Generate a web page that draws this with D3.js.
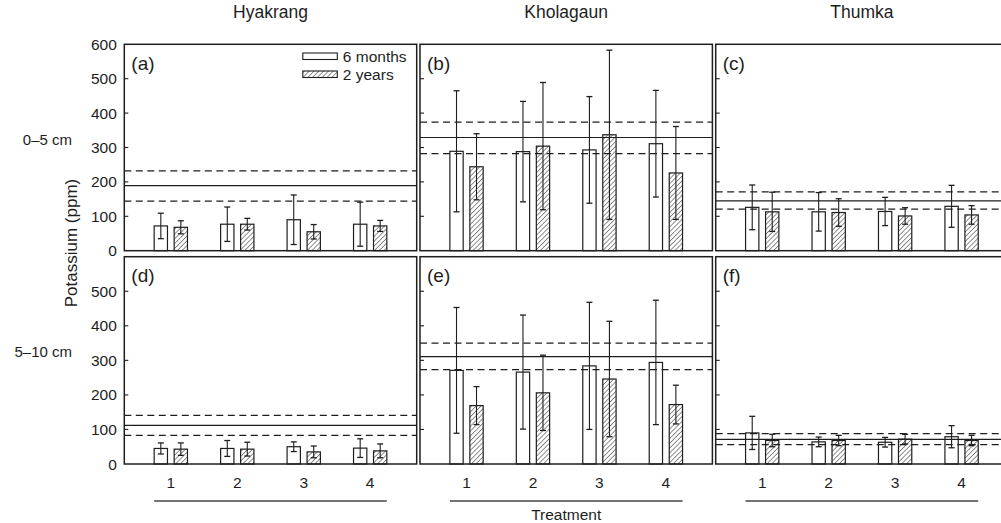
<!DOCTYPE html>
<html>
<head>
<meta charset="utf-8">
<script src="https://cdn.jsdelivr.net/npm/d3@7/dist/d3.min.js"></script>
<style>
  html, body { margin: 0; padding: 0; background: #fff; }
  svg { display: block; font-family: "Liberation Sans", Arial, Helvetica, sans-serif; }
</style>
</head>
<body>
<svg id="chart" width="1001" height="523"></svg>
<script>
// Soil potassium by site, depth and treatment
const sites = ["Hyakrang", "Kholagaun", "Thumka"];
const depths = ["0–5 cm", "5–10 cm"];
const panelLabels = ["(a)", "(b)", "(c)", "(d)", "(e)", "(f)"];
const treatments = [1, 2, 3, 4];
const seriesNames = ["6 months", "2 years"];

// panels in reading order: a, b, c (0–5 cm), d, e, f (5–10 cm)
const sixMonthMean = [
  [72, 77, 90, 77],
  [289, 288, 293, 311],
  [126, 113, 114, 129],
  [45, 45, 50, 46],
  [271, 266, 284, 294],
  [90, 64, 63, 79]
];
const sixMonthErr = [
  [37, 50, 72, 64],
  [176, 146, 155, 155],
  [65, 56, 41, 61],
  [16, 23, 14, 27],
  [182, 165, 184, 180],
  [48, 14, 14, 32]
];
const twoYearMean = [
  [68, 77, 55, 72],
  [244, 304, 337, 226],
  [113, 111, 101, 104],
  [43, 43, 35, 38],
  [169, 206, 246, 172],
  [68, 68, 72, 68]
];
const twoYearErr = [
  [19, 17, 21, 16],
  [96, 185, 246, 135],
  [57, 40, 24, 27],
  [18, 20, 17, 20],
  [55, 109, 167, 56],
  [18, 15, 14, 15]
];
// reference level (solid) with its lower / upper bounds (dashed)
const refMean = [189, 329, 145, 112, 311, 71];
const refLow = [144, 282, 121, 83, 273, 56];
const refHigh = [232, 374, 171, 141, 350, 88];

const yTicksTop = [0, 100, 200, 300, 400, 500, 600];
const yTicksBottom = [0, 100, 200, 300, 400, 500];

// ---- layout ----
const svg = d3.select("#chart");
const ink = "#1e1e1e";
const panelW = 292.4;
const colLeft = [124.3, 420.0, 715.7];
const rowTop = [44.3, 256.7];
const rowBottom = [250.7, 464.0];
const barW = 13.3;
const pairGap = 6.7;

const x = d3.scaleLinear().domain([0.3, 4.7]).range([0, panelW]);

// hatch pattern for the 2-year bars
const defs = svg.append("defs");
const pat = defs.append("pattern")
  .attr("id", "hatch")
  .attr("patternUnits", "userSpaceOnUse")
  .attr("width", 3.4).attr("height", 3.4)
  .attr("patternTransform", "rotate(45)");
pat.append("rect").attr("width", 3.4).attr("height", 3.4).attr("fill", "#fff");
pat.append("line").attr("x1", 0).attr("y1", 0).attr("x2", 0).attr("y2", 3.4)
  .attr("stroke", "#333").attr("stroke-width", 1.1);

// column titles
sites.forEach((s, c) => {
  svg.append("text")
    .attr("x", colLeft[c] + panelW / 2).attr("y", 18)
    .attr("text-anchor", "middle").attr("font-size", 17.5).attr("fill", ink)
    .text(s);
});

// row labels
depths.forEach((d, r) => {
  svg.append("text")
    .attr("x", 72).attr("y", r === 0 ? 145 : 357)
    .attr("text-anchor", "end").attr("font-size", 15).attr("fill", ink)
    .text(d);
});

// y axis title
svg.append("text")
  .attr("transform", "translate(77,243) rotate(-90)")
  .attr("text-anchor", "middle").attr("font-size", 17).attr("fill", ink)
  .text("Potassium (ppm)");

for (let r = 0; r < 2; r++) {
  for (let c = 0; c < 3; c++) {
    const p = r * 3 + c;
    const left = colLeft[c];
    const y = d3.scaleLinear().domain([0, 600]).range([rowBottom[r], rowTop[r]]);
    const g = svg.append("g").attr("transform", `translate(${left},0)`);

    // bars
    const open = treatments.map((t, i) => ({ t, m: sixMonthMean[p][i], e: sixMonthErr[p][i], side: -1 }));
    const hat = treatments.map((t, i) => ({ t, m: twoYearMean[p][i], e: twoYearErr[p][i], side: 1 }));
    const all = open.concat(hat);
    const bx = d => d.side < 0 ? x(d.t) - pairGap / 2 - barW : x(d.t) + pairGap / 2;

    g.selectAll("rect.bar").data(all).join("rect")
      .attr("class", "bar")
      .attr("x", bx)
      .attr("y", d => y(d.m))
      .attr("width", barW)
      .attr("height", d => y(0) - y(d.m))
      .attr("fill", d => d.side < 0 ? "#fff" : "url(#hatch)")
      .attr("stroke", ink).attr("stroke-width", 1.2);

    // reference lines
    g.append("line")
      .attr("x1", 0).attr("x2", panelW)
      .attr("y1", y(refMean[p])).attr("y2", y(refMean[p]))
      .attr("stroke", ink).attr("stroke-width", 1.2);
    [refLow[p], refHigh[p]].forEach(v => {
      g.append("line")
        .attr("x1", 0).attr("x2", panelW)
        .attr("y1", y(v)).attr("y2", y(v))
        .attr("stroke", ink).attr("stroke-width", 1.2)
        .attr("stroke-dasharray", "7,4.5");
    });

    // error bars
    const eb = g.selectAll("g.err").data(all).join("g").attr("class", "err");
    const cx = d => bx(d) + barW / 2;
    eb.append("line")
      .attr("x1", cx).attr("x2", cx)
      .attr("y1", d => y(d.m + d.e)).attr("y2", d => y(Math.max(0, d.m - d.e)))
      .attr("stroke", ink).attr("stroke-width", 1.1);
    eb.append("line")
      .attr("x1", d => cx(d) - 3).attr("x2", d => cx(d) + 3)
      .attr("y1", d => y(d.m + d.e)).attr("y2", d => y(d.m + d.e))
      .attr("stroke", ink).attr("stroke-width", 1.3);
    eb.append("line")
      .attr("x1", d => cx(d) - 3).attr("x2", d => cx(d) + 3)
      .attr("y1", d => y(Math.max(0, d.m - d.e))).attr("y2", d => y(Math.max(0, d.m - d.e)))
      .attr("stroke", ink).attr("stroke-width", 1.3);

    // inward tick marks
    const ticks = r === 0 ? yTicksTop : yTicksBottom;
    g.selectAll("line.tick").data(ticks.filter(v => v > 0 && v < 600)).join("line")
      .attr("class", "tick")
      .attr("x1", 0).attr("x2", 4)
      .attr("y1", v => y(v)).attr("y2", v => y(v))
      .attr("stroke", ink).attr("stroke-width", 1.1);

    // panel frame
    g.append("rect")
      .attr("x", 0).attr("y", rowTop[r])
      .attr("width", panelW).attr("height", rowBottom[r] - rowTop[r])
      .attr("fill", "none").attr("stroke", ink).attr("stroke-width", 1.5);

    // panel letter
    g.append("text")
      .attr("x", 7).attr("y", rowTop[r] + 25.5)
      .attr("font-size", 19).attr("fill", ink)
      .text(panelLabels[p]);

    // y tick labels on the first column
    if (c === 0) {
      g.selectAll("text.ylab").data(ticks).join("text")
        .attr("class", "ylab")
        .attr("x", -7.5).attr("y", v => y(v))
        .attr("dy", "0.36em")
        .attr("text-anchor", "end").attr("font-size", 15.5).attr("fill", ink)
        .text(v => v);
    }

    // treatment labels and underline on the bottom row
    if (r === 1) {
      g.selectAll("text.xlab").data(treatments).join("text")
        .attr("class", "xlab")
        .attr("x", t => x(t)).attr("y", 487.5)
        .attr("text-anchor", "middle").attr("font-size", 15.5).attr("fill", ink)
        .text(t => t);
      g.append("line")
        .attr("x1", x(1) - pairGap / 2 - barW).attr("x2", x(4) + pairGap / 2 + barW)
        .attr("y1", 501).attr("y2", 501)
        .attr("stroke", "#444").attr("stroke-width", 1.5);
    }

    // legend in the first panel
    if (p === 0) {
      const lg = g.append("g").attr("transform", "translate(178.5,0)");
      const fills = ["#fff", "url(#hatch)"];
      const ys = [53, 71];
      seriesNames.forEach((n, i) => {
        lg.append("rect").attr("x", 0).attr("y", ys[i]).attr("width", 34.5).attr("height", 6.5)
          .attr("fill", fills[i]).attr("stroke", ink).attr("stroke-width", 1.1);
        lg.append("text").attr("x", 40).attr("y", ys[i] + 3.3).attr("dy", "0.36em")
          .attr("font-size", 15.5).attr("fill", ink).text(n);
      });
    }
  }
}

svg.append("text")
  .attr("x", colLeft[1] + panelW / 2).attr("y", 519.5)
  .attr("text-anchor", "middle").attr("font-size", 15.5).attr("fill", ink)
  .text("Treatment");
</script>
</body>
</html>
